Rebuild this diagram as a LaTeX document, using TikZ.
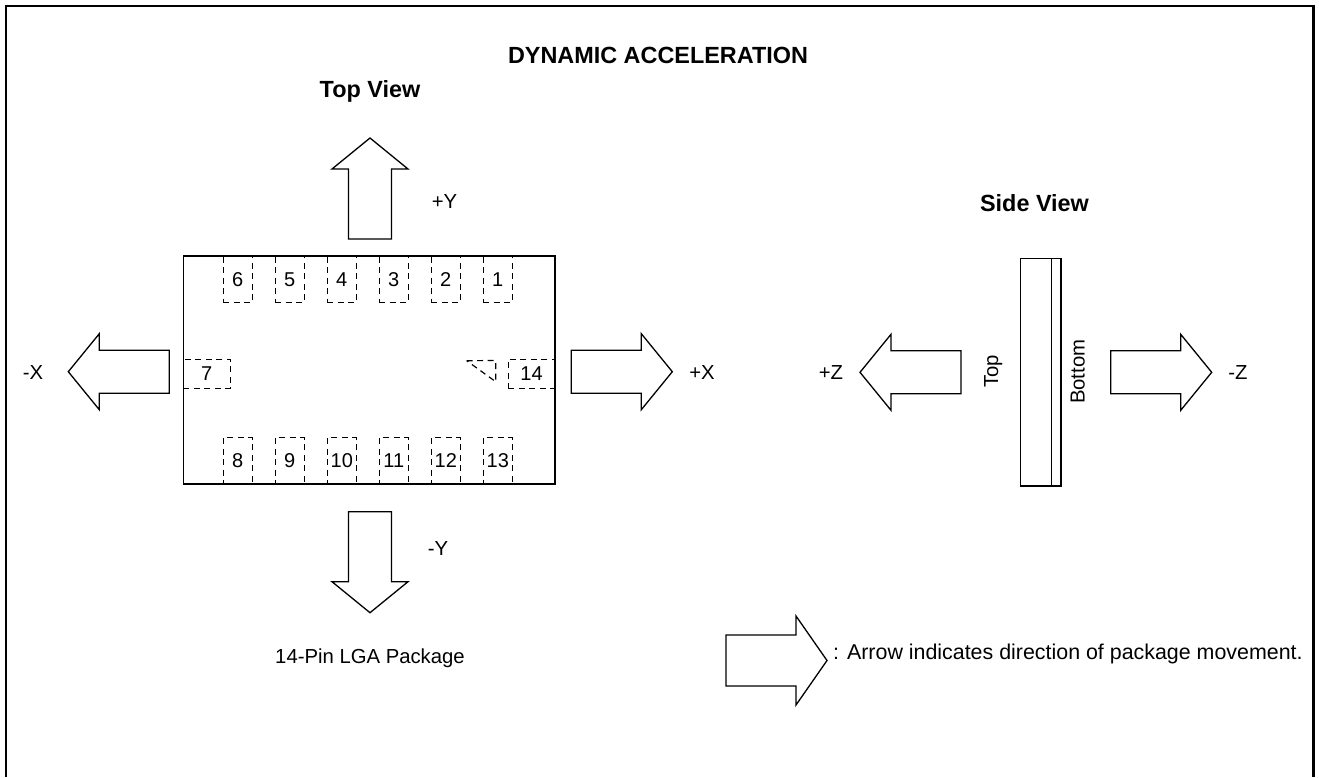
\documentclass[tikz,border=0pt]{standalone}
\usepackage{fontspec}
\setmainfont{Liberation Sans}
\tikzset{
  arrowline/.style={draw=black, line width=1.3pt, line join=miter, fill=white},
  lbl/.style={font=\fontsize{20.3}{24}\selectfont, inner sep=0pt, anchor=base},
  ttl/.style={font=\fontsize{23.4}{28}\selectfont\bfseries, inner sep=0pt, anchor=base},
  pad/.style={draw=black, line width=1.2pt, dash pattern=on 6pt off 4.5pt, inner sep=0pt,
              font=\fontsize{20}{22}\selectfont},
  vpad/.style={pad, minimum width=29pt, minimum height=46.5pt},
  hpad/.style={pad, minimum width=47pt, minimum height=29pt},
  pics/blockarrow/.style 2 args={code={
    \draw[arrowline] (-101,-#1) -- (-31,-#1) -- (-31,-#2) -- (0,0) -- (-31,#2) -- (-31,#1) -- (-101,#1) -- cycle;
  }}
}
\begin{document}
\begin{tikzpicture}[x=1pt,y=-1pt]
\useasboundingbox (0,0) rectangle (1319,777);
% outer frame
\draw[line width=2.3pt] (6,777) -- (6,6) -- (1313.5,6) -- (1313.5,777);

% titles
\node[ttl] (title) at (658,63.3) {DYNAMIC ACCELERATION};
\node[ttl] (topview) at (370,97.7) {Top View};
\node[ttl] (sideview) at (1034.5,211.7) {Side View};

% package (top view)
\draw[line width=1.5pt] (183.3,256) rectangle (555,484);
% top row pads
\node[vpad] (p6) at (237.8,279.3) {6};
\node[vpad] (p5) at (289.8,279.3) {5};
\node[vpad] (p4) at (341.8,279.3) {4};
\node[vpad] (p3) at (393.8,279.3) {3};
\node[vpad] (p2) at (445.8,279.3) {2};
\node[vpad] (p1) at (497.8,279.3) {1};
% bottom row pads
\node[vpad] (p8)  at (237.8,460.8) {8};
\node[vpad] (p9)  at (289.8,460.8) {9};
\node[vpad] (p10) at (341.8,460.8) {10};
\node[vpad] (p11) at (393.8,460.8) {11};
\node[vpad] (p12) at (445.8,460.8) {12};
\node[vpad] (p13) at (497.8,460.8) {13};
% side pads
\node[hpad] (p7)  at (206.8,373.8) {7};
\node[hpad] (p14) at (531.6,373.8) {14};
% pin 1 marker
\draw[line width=1.2pt, dash pattern=on 6pt off 4.5pt] (466.7,360.7) -- (495.7,360.5) -- (495.7,381.7) -- cycle;

% top view arrows
\pic[rotate=90]  at (370,138)   {blockarrow={21.5}{38}};
\pic[rotate=-90] at (370,612.7) {blockarrow={21.5}{38}};
\pic[rotate=180] at (68.3,371.7) {blockarrow={21.5}{38}};
\pic at (672.3,371.7) {blockarrow={21.5}{38}};

\node[lbl] (py) at (444.5,208.3) {+Y};
\node[lbl] (my) at (438,555.5) {-Y};
\node[lbl] (mx) at (33,379) {-X};
\node[lbl] (px) at (702,379) {+X};
\node[lbl] (pkg) at (370,663.3) {14-Pin LGA Package};

% side view
\draw[line width=1.3pt] (1020.7,258.3) rectangle (1061,486);
\draw[line width=1pt] (1051.7,258.3) -- (1051.7,486);
\node[lbl, anchor=center, rotate=90] (topl) at (993.3,371.5) {Top};
\node[lbl, anchor=center, rotate=90] (botl) at (1077.7,371.7) {Bottom};
\pic[rotate=180] at (860,372.3) {blockarrow={21.5}{38}};
\pic at (1211.7,372.3) {blockarrow={21.5}{38}};
\node[lbl] (pz) at (831,379.3) {+Z};
\node[lbl] (mz) at (1238,379.3) {-Z};

% legend
\pic at (827,660.5) {blockarrow={25.5}{44.5}};
\node[lbl, anchor=base west, font=\fontsize{21.4}{24}\selectfont] (legend) at (833,659) {: Arrow indicates direction of package movement.};
\end{tikzpicture}
\end{document}
